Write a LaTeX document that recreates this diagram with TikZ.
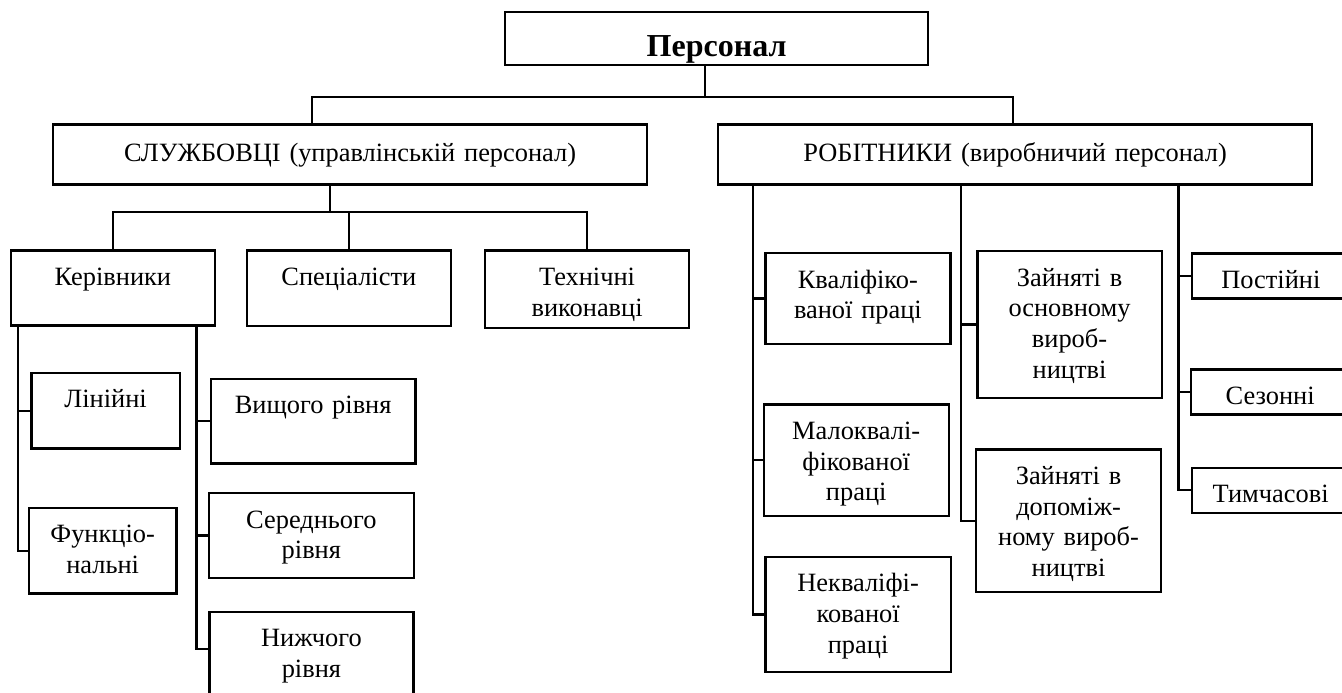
\documentclass[tikz,border=0pt]{standalone}
\usepackage{fontspec}
\setmainfont{Liberation Serif}

\begin{document}
\begin{tikzpicture}[x=0.5pt,y=-0.5pt]
  \tikzstyle{box}=[draw,line width=1.1pt,anchor=north west,inner sep=0pt,align=center,text height=17.5pt,font=\fontsize{13.2}{15.35}\selectfont]
  \tikzstyle{link}=[line width=1.1pt]
  \useasboundingbox (0,0) rectangle (1342,692);
  % Top level
  \node (personal) at (504,11) [box,text width=211.5pt,text height=22pt,text depth=4.5pt,font=\fontsize{16}{19}\selectfont\bfseries] {Персонал};
  \node (sluzh) at (52,123.3) [box,text width=297pt,text height=18.5pt,text depth=11.5pt] {СЛУЖБОВЦІ (управлінській персонал)};
  \node (robit) at (717,123.3) [box,text width=297pt,text height=18.5pt,text depth=11.5pt] {РОБІТНИКИ (виробничий персонал)};
  % Employees
  \node (kerivn) at (9.5,249.3) [box,text width=102.25pt,text depth=20pt] {Керівники};
  \node (spets) at (245.5,249.3) [box,text width=102.25pt,text depth=20.25pt] {Спеціалісти};
  \node (tekhn) at (484,249.3) [box,text width=102pt,text depth=21.2pt] {Технічні\\виконавці};
  % Managers
  \node (liniini) at (30.4,371.7) [box,text width=74.1pt,text depth=20.3pt] {Лінійні};
  \node (funkts) at (27.7,506.7) [box,text width=73.85pt,text depth=25.3pt] {Функціо-\\нальні};
  \node (vyshch) at (209.8,377.7) [box,text width=102.25pt,text depth=24.8pt] {Вищого рівня};
  \node (seredn) at (208,492) [box,text width=102.25pt,text depth=24.85pt] {Середнього\\рівня};
  \node (nyzhch) at (208.3,610.7) [box,text width=102pt,text depth=27.5pt] {Нижчого\\рівня};
  % Workers
  \node (kvalif) at (764.3,252) [box,text width=92.5pt,text depth=27.85pt] {Кваліфіко-\\ваної праці};
  \node (malokv) at (762.6,403.3) [box,text width=92.5pt,text depth=38.35pt] {Малоквалі-\\фікованої\\праці};
  \node (nekval) at (764.3,555.7) [box,text width=92.7pt,text depth=40.15pt] {Некваліфі-\\кованої\\праці};
  \node (zosnov) at (976.3,250) [box,text width=92.15pt,text depth=55.85pt] {Зайняті в\\основному\\вироб-\\ництві};
  \node (zdopom) at (975,448.3) [box,text width=92.4pt,text depth=53.7pt] {Зайняті в\\допоміж-\\ному вироб-\\ництві};
  \node (postiini) at (1190.7,252.3) [box,text width=79pt,text depth=5pt] {Постійні};
  \node (sezonni) at (1190,368.3) [box,text width=79pt,text depth=5pt] {Сезонні};
  \node (tymchas) at (1190.5,466.7) [box,text width=79pt,text depth=5pt] {Тимчасові};
  % Junction points
  \coordinate (pj) at (705,96.7);
  \coordinate (sj) at (311.6,96.7);
  \coordinate (rj) at (1013,96.7);
  \coordinate (sb) at (330.3,212);
  \coordinate (kl) at (17.9,549);
  \coordinate (kr) at (196.4,649.3);
  \coordinate (ra) at (752.6,613);
  \coordinate (rb) at (961.2,520);
  \coordinate (rc) at (1178.5,490);
  % Lines from the top
  \draw[link] (personal.south -| pj) -- (pj);
  \draw[link] (sluzh.north -| sj) -- (sj) -- (rj) -- (robit.north -| rj);
  \draw[link] (sluzh.south -| sb) -- (sb);
  \draw[link] (kerivn.north) |- (sb) -| (tekhn.north);
  \draw[link] (spets.north) -- (spets.north |- sb);
  % Managers lines
  \draw[link] (kerivn.south -| kl) |- (funkts.west);
  \draw[link] (kl |- liniini.west) -- (liniini.west);
  \draw[link] (kerivn.south -| kr) -- (kr) -- (kr -| nyzhch.west);
  \draw[link] (kr |- vyshch.west) -- (vyshch.west);
  \draw[link] (kr |- seredn.west) -- (seredn.west);
  % Workers lines
  \draw[link] (robit.south -| ra) |- (nekval.west);
  \draw[link] (ra |- kvalif.west) -- (kvalif.west);
  \draw[link] (ra |- malokv.west) -- (malokv.west);
  \draw[link] (robit.south -| rb) |- (zdopom.west);
  \draw[link] (rb |- zosnov.west) -- (zosnov.west);
  \draw[link] (robit.south -| rc) |- (tymchas.west);
  \draw[link] (rc |- postiini.west) -- (postiini.west);
  \draw[link] (rc |- sezonni.west) -- (sezonni.west);
\end{tikzpicture}
\end{document}
